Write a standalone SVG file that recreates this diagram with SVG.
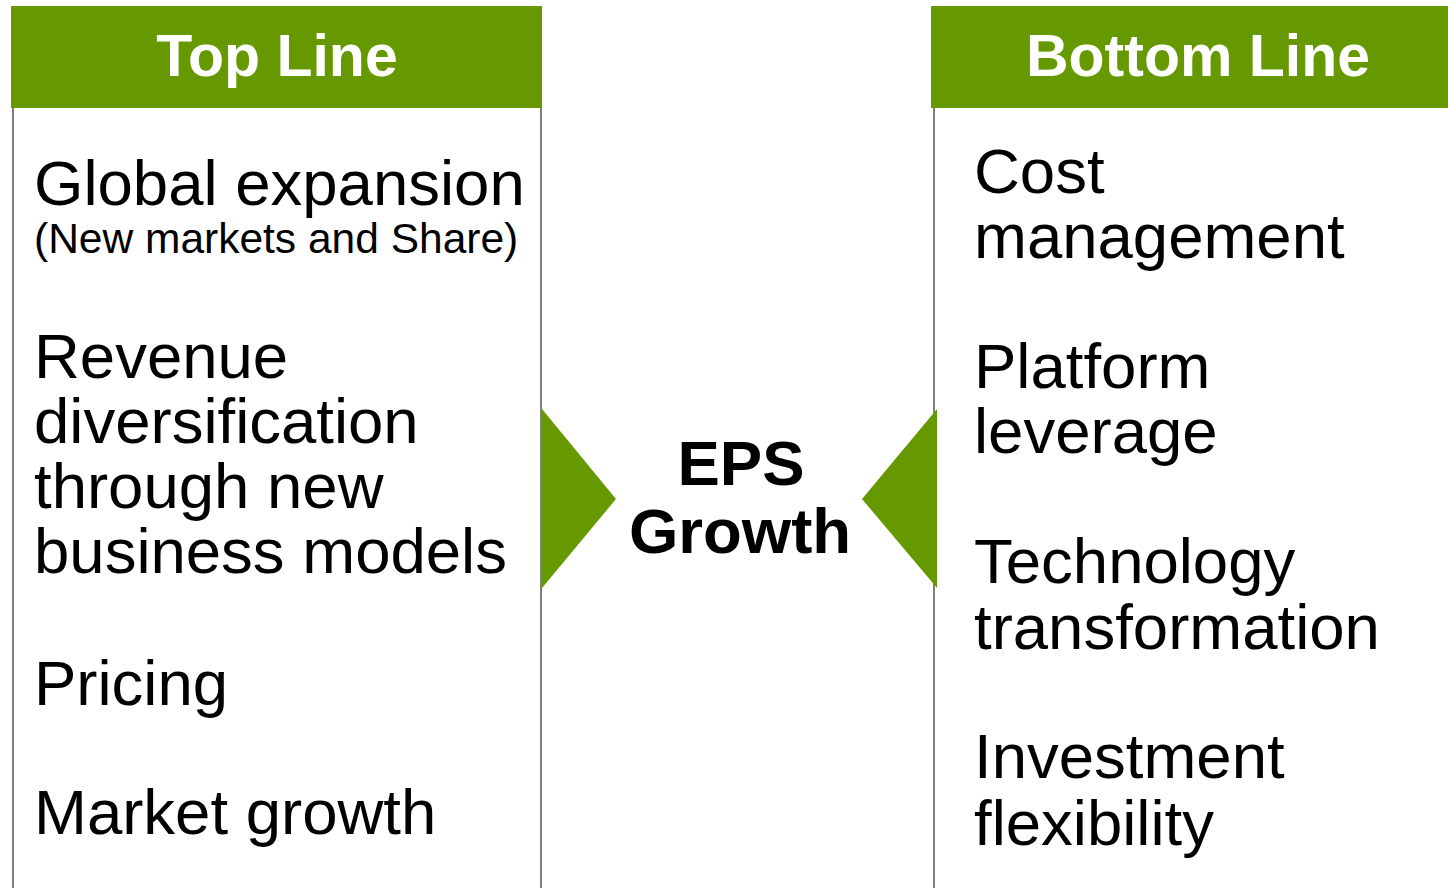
<svg xmlns="http://www.w3.org/2000/svg" width="1448" height="888" viewBox="0 0 1448 888">
<style>
.hdr{fill:#669900}
.hdrt{font-family:"Liberation Sans",Arial,sans-serif;font-weight:bold;font-size:59px;fill:#ffffff;text-anchor:middle}
.body{font-family:"Liberation Sans",Arial,sans-serif;font-size:63.5px;fill:#000000}
.small{font-size:42.5px}
.edge{stroke:#7f7f7f;stroke-width:2;fill:none}
.arrow{fill:#669900}
.eps{font-family:"Liberation Sans",Arial,sans-serif;font-weight:bold;font-size:63.5px;fill:#000000;text-anchor:middle}
</style>
<rect width="1448" height="888" fill="#ffffff"/>
<g id="top-line">
<line class="edge" x1="13" y1="108" x2="13" y2="888"/>
<line class="edge" x1="541" y1="108" x2="541" y2="888"/>
<rect class="hdr" x="11" y="6" width="531" height="102"/>
<text class="hdrt" x="277" y="76">Top Line</text>
<text class="body" x="34" y="205">Global expansion</text>
<text class="body small" x="34" y="253">(New markets and Share)</text>
<text class="body" x="34" y="378">Revenue</text>
<text class="body" x="34" y="443">diversification</text>
<text class="body" x="34" y="508">through new</text>
<text class="body" x="34" y="573">business models</text>
<text class="body" x="34" y="705">Pricing</text>
<text class="body" x="34" y="834">Market growth</text>
</g>
<g id="bottom-line">
<line class="edge" x1="934" y1="108" x2="934" y2="888"/>
<rect class="hdr" x="931" y="6" width="517" height="102"/>
<text class="hdrt" x="1198" y="76">Bottom Line</text>
<text class="body" x="974" y="193">Cost</text>
<text class="body" x="974" y="258">management</text>
<text class="body" x="974" y="388">Platform</text>
<text class="body" x="974" y="453">leverage</text>
<text class="body" x="974" y="583">Technology</text>
<text class="body" x="974" y="649">transformation</text>
<text class="body" x="974" y="778">Investment</text>
<text class="body" x="974" y="845">flexibility</text>
</g>
<g id="eps-growth">
<text class="eps" x="741" y="485">EPS</text>
<text class="eps" x="740" y="553">Growth</text>
</g>
<g id="connectors">
<polygon class="arrow" points="542,409 616,499 542,588"/>
<polygon class="arrow" points="937,409 862,499 937,588"/>
</g>
</svg>
